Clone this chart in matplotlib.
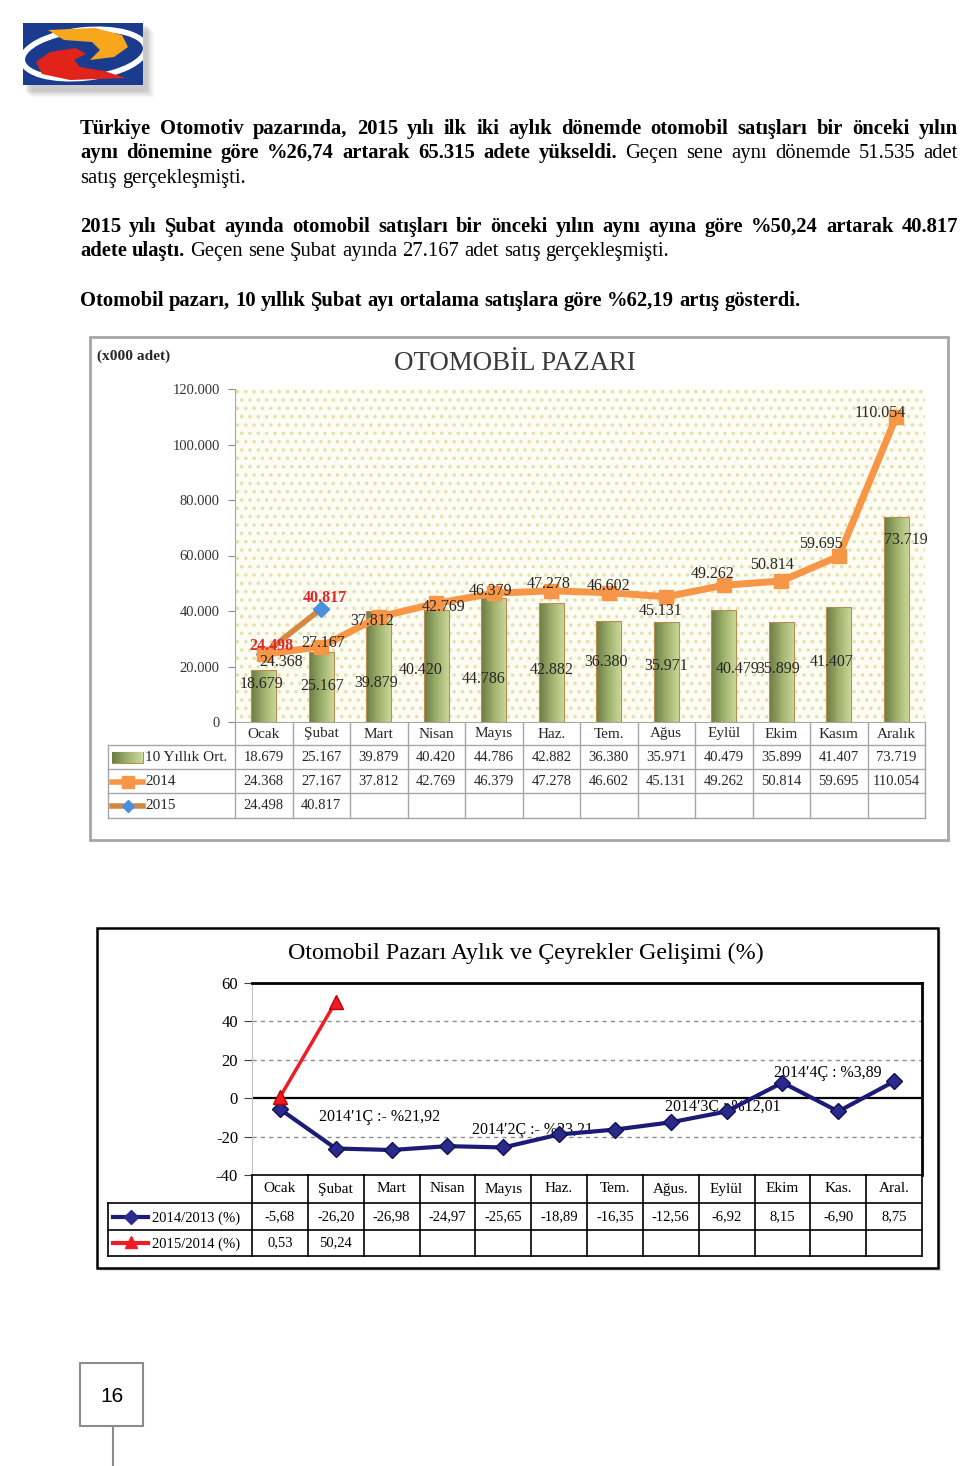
import matplotlib
matplotlib.use('Agg')
import matplotlib.pyplot as plt
import matplotlib.patches as patches
from matplotlib.colors import LinearSegmentedColormap
import numpy as np

# --- veriler ---
months1 = ['Ocak', 'Şubat', 'Mart', 'Nisan', 'Mayıs', 'Haz.', 'Tem.', 'Ağus', 'Eylül', 'Ekim', 'Kasım', 'Aralık']
avg10 = [18679, 25167, 39879, 40420, 44786, 42882, 36380, 35971, 40479, 35899, 41407, 73719]
sales2014 = [24368, 27167, 37812, 42769, 46379, 47278, 46602, 45131, 49262, 50814, 59695, 110054]
sales2015 = [24498, 40817]
yticks1 = [0, 20000, 40000, 60000, 80000, 100000, 120000]

months2 = ['Ocak', 'Şubat', 'Mart', 'Nisan', 'Mayıs', 'Haz.', 'Tem.', 'Ağus.', 'Eylül', 'Ekim', 'Kas.', 'Aral.']
chg2014 = [-5.68, -26.20, -26.98, -24.97, -25.65, -18.89, -16.35, -12.56, -6.92, 8.15, -6.90, 8.75]
chg2015 = [0.53, 50.24]
quarters = ['2014′1Ç :- %21,92', '2014′2Ç :- %23,21', '2014′3Ç : %12,01', '2014′4Ç : %3,89']

W, H = 960, 1466
SERIF = ['Liberation Serif', 'DejaVu Serif']
DARK = '#262626'
ORANGE = '#f79646'

fig = plt.figure(figsize=(9.6, 14.66), dpi=100)
fig.patch.set_facecolor('white')
pg = fig.add_axes([0, 0, 1, 1], zorder=0)
pg.set_xlim(0, W)
pg.set_ylim(H, 0)
pg.axis('off')
renderer = fig.canvas.get_renderer()


def px_axes(x0, y0, x1, y1, z=1):
    return fig.add_axes([x0 / W, 1 - y1 / H, (x1 - x0) / W, (y1 - y0) / H], zorder=z)


def text_w(s, size, weight='normal', family=SERIF):
    t = pg.text(0, 0, s, fontsize=size, fontweight=weight, family=family)
    w = t.get_window_extent(renderer).width
    t.remove()
    return w


def fit(x, y, s, width, weight='normal', family=SERIF, **kw):
    size = 10 * width / text_w(s, 10, weight, family)
    return pg.text(x, y, s, fontsize=size, fontweight=weight, family=family, **kw)


def body_line(parts, y, size, x0=80, x1=None):
    words = [(w, wt) for txt, wt in parts for w in txt.split()]
    widths = [text_w(w, size, wt) for w, wt in words]
    if x1 is None:
        gap = text_w('a a', size) - text_w('aa', size)
    else:
        gap = (x1 - x0 - sum(widths)) / (len(words) - 1)
    x = x0
    for (w, wt), ww in zip(words, widths):
        pg.text(x, y, w, fontsize=size, fontweight=wt, family=SERIF, color='black', va='baseline')
        x += ww + gap


def thousands(v):
    return f'{v:,}'.replace(',', '.')


def pct(v):
    return f'{v:.2f}'.replace('.', ',')


# --- logo ---
for k, a in enumerate([0.18, 0.14, 0.10, 0.06]):
    pg.add_patch(patches.Rectangle((26 + 2 * k, 26 + 2 * k), 122, 66, facecolor='#808080',
                                   edgecolor='none', alpha=a))
logo_bg = patches.Rectangle((23, 23), 120, 62, facecolor='#1b3c8e', edgecolor='none')
pg.add_patch(logo_bg)
ring = patches.Ellipse((84, 54), 124, 48, angle=-6, facecolor='none', edgecolor='white', lw=4)
pg.add_patch(ring)
ring.set_clip_path(logo_bg)
orange = patches.Polygon([(48, 30), (95, 28), (122, 35), (128, 47), (114, 57), (90, 60), (100, 50),
                          (92, 42), (64, 40)], closed=True, facecolor='#f6a71c', edgecolor='none')
red = patches.Polygon([(36, 62), (50, 52), (76, 48), (86, 54), (74, 60), (80, 67), (104, 71), (126, 78),
                       (70, 80), (42, 74)], closed=True, facecolor='#e2231a', edgecolor='none')
pg.add_patch(orange)
pg.add_patch(red)
orange.set_clip_path(logo_bg)
red.set_clip_path(logo_bg)

# --- metin ---
line6 = 'Otomobil pazarı, 10 yıllık Şubat ayı ortalama satışlara göre %62,19 artış gösterdi.'
BODY = 10 * 726 / text_w(line6, 10, 'bold')
body_line([('Türkiye Otomotiv pazarında, 2015 yılı ilk iki aylık dönemde otomobil satışları bir önceki yılın', 'bold')],
          134, BODY, x1=958)
body_line([('aynı dönemine göre %26,74 artarak 65.315 adete yükseldi.', 'bold'),
           ('Geçen sene aynı dönemde 51.535 adet', 'normal')], 158, BODY, x1=958)
body_line([('satış gerçekleşmişti.', 'normal')], 183, BODY)
body_line([('2015 yılı Şubat ayında otomobil satışları bir önceki yılın aynı ayına göre %50,24 artarak 40.817', 'bold')],
          232, BODY, x1=958)
body_line([('adete ulaştı.', 'bold'), ('Geçen sene Şubat ayında 27.167 adet satış gerçekleşmişti.', 'normal')],
          256, BODY)
body_line([(line6, 'bold')], 306, BODY)

# --- grafik 1: OTOMOBİL PAZARI ---
pg.add_patch(patches.Rectangle((90, 337), 858, 503, facecolor='white', edgecolor='#a6a6a6', lw=2))
fit(97, 356, '(x000 adet)', 73, weight='bold', color=DARK, va='center')
fit(515, 364, 'OTOMOBİL PAZARI', 243, color='#3a3a3a', ha='center', va='center')

ax1 = px_axes(235, 389, 925, 722)
ax1.set_facecolor('#fefdf4')
plt.rcParams['hatch.linewidth'] = 1.3
ax1.add_patch(patches.Rectangle((0, 0), 1, 1, transform=ax1.transAxes, fill=False, hatch='..',
                                edgecolor='#e8dfae', lw=0, zorder=0))
x = np.arange(len(months1))
bw = 0.44
bar_cmap = LinearSegmentedColormap.from_list('bar', ['#6b7b44', '#9fb26d', '#cddb9e'])
grad = np.linspace(0, 1, 64).reshape(1, -1)
bars = ax1.bar(x, avg10, width=bw, facecolor='none', edgecolor='#b98c4f', lw=0.8, zorder=3)
for rect in bars:
    im = ax1.imshow(grad, cmap=bar_cmap, aspect='auto', zorder=2,
                    extent=(rect.get_x(), rect.get_x() + rect.get_width(), 0, rect.get_height()))
    im.set_clip_path(rect)

ax1.plot(x[:len(sales2015)], sales2015, color='#d4873f', lw=4, zorder=4,
         marker='D', ms=8, mfc='#4a8fdb', mec='#4a8fdb')
ax1.plot(x, sales2014, color=ORANGE, lw=5, zorder=5, marker='s', ms=10, mfc=ORANGE, mec=ORANGE)
ax1.set_xlim(-0.5, 11.5)
ax1.set_ylim(0, 120000)

LBL = 11.5
bar_off = [(-2, -14), (1, -34), (-3, -72), (-16, -60), (-10, -81), (0, -67),
           (-3, -41), (0, -44), (14, -59), (-3, -47), (-7, -55), (10, -23)]
for i, v in enumerate(avg10):
    ax1.annotate(thousands(v), (i, v), xytext=bar_off[i], textcoords='offset pixels', ha='center',
                 va='center', fontsize=LBL, family=SERIF, color=DARK, zorder=6)
line_off = [(17, -8), (2, 4), (-7, -4), (7, -4), (-3, 2), (-3, 7), (0, 7), (-6, -14),
            (-11, 11), (-9, 16), (-18, 12), (-16, 4)]
for i, v in enumerate(sales2014):
    ax1.annotate(thousands(v), (i, v), xytext=line_off[i], textcoords='offset pixels', ha='center',
                 va='center', fontsize=LBL, family=SERIF, color=DARK, zorder=7)
for (i, v), off in zip(enumerate(sales2015), [(8, 8), (4, 11)]):
    ax1.annotate(thousands(v), (i, v), xytext=off, textcoords='offset pixels', ha='center',
                 va='center', fontsize=LBL, fontweight='bold', family=SERIF, color='#e3262b', zorder=8)

ax1.set_yticks(yticks1)
ax1.set_yticklabels([thousands(t) for t in yticks1], family=SERIF, fontsize=10.5, color='#333333')
ax1.set_xticks([])
ax1.tick_params(axis='y', length=5, color='#8c8c8c', pad=6)
for s in ('top', 'right'):
    ax1.spines[s].set_visible(False)
ax1.spines['left'].set_color('#a6a6a6')
ax1.spines['bottom'].set_color('#a6a6a6')

# veri tablosu 1
cw1 = 690 / 12
xs1 = [235 + cw1 * k for k in range(13)]
rows1 = [722, 745, 769, 793, 818]
tc = '#a6a6a6'
TBL = 10.5
for yy in rows1[1:]:
    pg.plot([108, 925], [yy, yy], color=tc, lw=1)
pg.plot([108, 108], [745, 818], color=tc, lw=1)
for xx in xs1:
    pg.plot([xx, xx], [722, 818], color=tc, lw=1)
for k, m in enumerate(months1):
    cx = xs1[k] + cw1 / 2
    pg.text(cx, 734, m, ha='center', va='center', fontsize=11, family=SERIF, color=DARK)
    pg.text(cx, 757.5, thousands(avg10[k]), ha='center', va='center', fontsize=TBL, family=SERIF, color=DARK)
    pg.text(cx, 781.5, thousands(sales2014[k]), ha='center', va='center', fontsize=TBL, family=SERIF, color=DARK)
    if k < len(sales2015):
        pg.text(cx, 805.5, thousands(sales2015[k]), ha='center', va='center', fontsize=TBL, family=SERIF,
                color=DARK)
key = patches.Rectangle((112, 752), 31, 11, facecolor='none', edgecolor='#b98c4f', lw=0.8)
pg.add_patch(key)
kim = pg.imshow(grad, cmap=bar_cmap, aspect='auto', extent=(112, 143, 763, 752), zorder=1)
kim.set_clip_path(key)
pg.plot([112, 143], [781.5, 781.5], color=ORANGE, lw=4)
pg.plot([127.5], [781.5], marker='s', ms=9, color=ORANGE, ls='none')
pg.plot([112, 143], [805.5, 805.5], color='#d4873f', lw=4)
pg.plot([127.5], [805.5], marker='D', ms=6, color='#4a8fdb', ls='none')
for yy, lab in zip([757.5, 781.5, 805.5], ['10 Yıllık Ort.', '2014', '2015']):
    pg.text(145, yy, lab, ha='left', va='center', fontsize=11, family=SERIF, color=DARK)
pg.set_xlim(0, W)
pg.set_ylim(H, 0)

# --- grafik 2: aylık ve çeyrek gelişim ---
pg.add_patch(patches.Rectangle((100, 931), 841, 340, facecolor='#e0e0e0', edgecolor='none'))
pg.add_patch(patches.Rectangle((97, 928), 841, 340, facecolor='white', edgecolor='black', lw=1.8))
fit(526, 953, 'Otomobil Pazarı Aylık ve Çeyrekler Gelişimi (%)', 477, color='black', ha='center', va='center')

ax2 = px_axes(252, 983, 922, 1175, z=2)
ax2.set_facecolor('none')
ax2.set_xlim(-0.5, 11.5)
ax2.set_ylim(-40, 60)
for g in (40, 20, -20):
    ax2.axhline(g, color='#8c8c8c', lw=1, ls=(0, (3, 3)), zorder=1)
ax2.axhline(0, color='black', lw=1.6, zorder=2)
ax2.plot(x, chg2014, color='#1c1c78', lw=3, marker='D', ms=8, mfc='#2a2a8c', mec='#111150', zorder=4)
ax2.plot(x[:len(chg2015)], chg2015, color='#ee1c24', lw=2.5, marker='^', ms=10, mfc='#ee1c24',
         mec='#c00000', zorder=5)
ax2.set_yticks([-40, -20, 0, 20, 40, 60])
ax2.set_yticklabels(['-40', '-20', '0', '20', '40', '60'], family=SERIF, fontsize=12, color='black')
ax2.set_xticks([])
ax2.tick_params(axis='y', length=6, color='#404040', pad=4)
ax2.spines['top'].set_linewidth(2)
ax2.spines['right'].set_linewidth(2)
ax2.spines['bottom'].set_linewidth(1.2)
ax2.spines['left'].set_color('#c0c0c0')

for q, (qx, qy) in zip(quarters, [(380, 1117), (532, 1130), (723, 1107), (828, 1073)]):
    pg.text(qx, qy, q, ha='center', va='center', fontsize=11.5, family=SERIF, color='black', zorder=3)

# veri tablosu 2
cw2 = 670 / 12
xs2 = [252 + cw2 * k for k in range(13)]
for yy in (1203, 1230, 1256):
    pg.plot([108, 922], [yy, yy], color='black', lw=1.2)
pg.plot([108, 108], [1203, 1256], color='black', lw=1.2)
for xx in xs2:
    pg.plot([xx, xx], [1175, 1256], color='black', lw=1.2)
for k, m in enumerate(months2):
    cx = xs2[k] + cw2 / 2
    pg.text(cx, 1189, m, ha='center', va='center', fontsize=11, family=SERIF, color='black')
    pg.text(cx, 1217, pct(chg2014[k]), ha='center', va='center', fontsize=10.5, family=SERIF, color='black')
    if k < len(chg2015):
        pg.text(cx, 1243, pct(chg2015[k]), ha='center', va='center', fontsize=10.5, family=SERIF, color='black')
pg.plot([113, 148], [1217, 1217], color='#1c1c78', lw=3)
pg.plot([130.5], [1217], marker='D', ms=7, color='#2a2a8c', ls='none')
pg.plot([113, 148], [1243, 1243], color='#ee1c24', lw=3)
pg.plot([130.5], [1242], marker='^', ms=8, color='#ee1c24', ls='none')
pg.text(152, 1218, '2014/2013 (%)', ha='left', va='center', fontsize=10.5, family=SERIF, color='black')
pg.text(152, 1244, '2015/2014 (%)', ha='left', va='center', fontsize=10.5, family=SERIF, color='black')

# --- sayfa numarası ---
pg.add_patch(patches.Rectangle((80, 1363), 63, 63, facecolor='white', edgecolor='#8c8c8c', lw=1.5))
pg.plot([113, 113], [1426, 1466], color='#8c8c8c', lw=1.5)
pg.text(111.5, 1396, '16', ha='center', va='center', fontsize=15, family=['Liberation Sans', 'DejaVu Sans'])

pg.set_xlim(0, W)
pg.set_ylim(H, 0)
fig.savefig('out.png', dpi=100, facecolor='white')
